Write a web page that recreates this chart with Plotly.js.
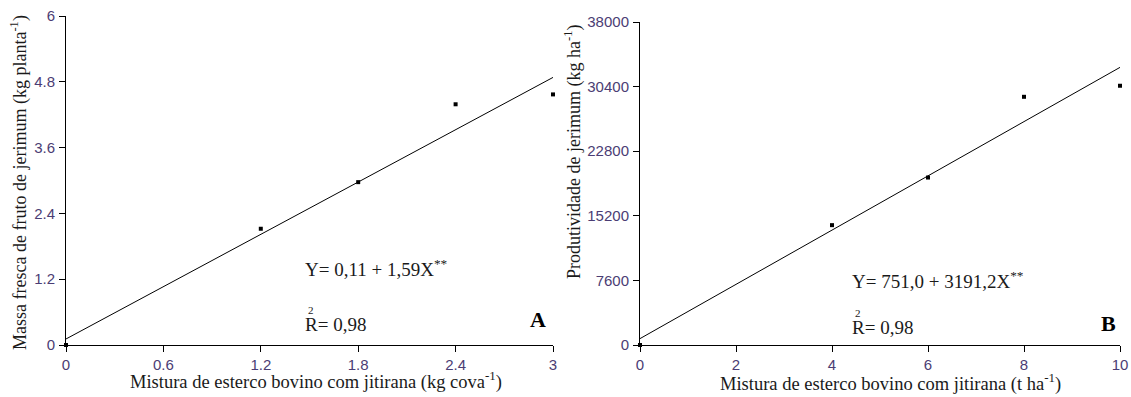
<!DOCTYPE html>
<html>
<head>
<meta charset="utf-8">
<script src="https://cdn.plot.ly/plotly-3.0.1.min.js"></script>
<style>
  html, body { margin: 0; padding: 0; background: #fff; }
  #chart { width: 1131px; height: 397px; }
</style>
</head>
<body>
<div id="chart"></div>
<script>
// Panel A: fresh fruit mass per plant vs. manure + jitirana dose per pit
const doseA = [0, 1.2, 1.8, 2.4, 3.0];
const massA = [0, 2.12, 2.97, 4.39, 4.57];
const fitA = { a: 0.11, b: 1.59 };
const ticksA_x = [0, 0.6, 1.2, 1.8, 2.4, 3];
const ticksA_y = [0, 1.2, 2.4, 3.6, 4.8, 6];

// Panel B: pumpkin yield per hectare vs. manure + jitirana dose per hectare
const doseB = [0, 4, 6, 8, 10];
const yieldB = [0, 14100, 19700, 29200, 30500];
const fitB = { a: 751.0, b: 3191.2 };
const ticksB_x = [0, 2, 4, 6, 8, 10];
const ticksB_y = [0, 7600, 15200, 22800, 30400, 38000];

const W = 1131, H = 397;
const px = v => v / W;
const py = v => (H - v) / H;

const tickColor = '#4b3d74';
const textColor = '#1a1a1a';
const serif = 'Liberation Serif, Times New Roman, serif';
const sans = 'Liberation Sans, Arial, sans-serif';

function fitLine(dose, fit) {
  const x0 = dose[0], x1 = dose[dose.length - 1];
  return { x: [x0, x1], y: [fit.a + fit.b * x0, fit.a + fit.b * x1] };
}
const lineA = fitLine(doseA, fitA);
const lineB = fitLine(doseB, fitB);

const markerStyle = { color: '#000', size: 4, symbol: 'square' };
const lineStyle = { color: '#000', width: 1 };

const traces = [
  { x: doseA, y: massA, xaxis: 'x', yaxis: 'y', mode: 'markers', marker: markerStyle, cliponaxis: false, showlegend: false },
  { x: lineA.x, y: lineA.y, xaxis: 'x', yaxis: 'y', mode: 'lines', line: lineStyle, cliponaxis: false, showlegend: false },
  { x: doseB, y: yieldB, xaxis: 'x2', yaxis: 'y2', mode: 'markers', marker: markerStyle, cliponaxis: false, showlegend: false },
  { x: lineB.x, y: lineB.y, xaxis: 'x2', yaxis: 'y2', mode: 'lines', line: lineStyle, cliponaxis: false, showlegend: false }
];

function axisBase(extra) {
  return Object.assign({
    showgrid: false, zeroline: false, showline: true,
    linecolor: '#000', linewidth: 1,
    ticks: 'outside', ticklen: 6, tickwidth: 1, tickcolor: '#000',
    tickmode: 'array',
    tickfont: { family: sans, size: 15, color: tickColor },
    fixedrange: true
  }, extra);
}

const layout = {
  width: W, height: H,
  margin: { l: 0, r: 0, t: 0, b: 0 },
  paper_bgcolor: '#fff', plot_bgcolor: '#fff',
  showlegend: false,
  xaxis: axisBase({ domain: [px(66), px(553)], range: [0, 3], tickvals: ticksA_x, ticktext: ticksA_x.map(String), anchor: 'y' }),
  yaxis: axisBase({ domain: [py(345), py(16)], range: [0, 6], tickvals: ticksA_y, ticktext: ticksA_y.map(String), anchor: 'x', ticklabelstandoff: 1 }),
  xaxis2: axisBase({ domain: [px(640), px(1120)], range: [0, 10], tickvals: ticksB_x, ticktext: ticksB_x.map(String), anchor: 'y2' }),
  yaxis2: axisBase({ domain: [py(345), py(22)], range: [0, 38000], tickvals: ticksB_y, ticktext: ticksB_y.map(String), anchor: 'x2', ticklabelstandoff: 1 }),
  annotations: []
};

function note(text, x, y, opts) {
  layout.annotations.push(Object.assign({
    text: text, xref: 'paper', yref: 'paper', x: px(x), y: py(y),
    showarrow: false, xanchor: 'center', yanchor: 'middle',
    font: { family: serif, size: 18.5, color: textColor }
  }, opts || {}));
}

// axis titles
note('Mistura de esterco bovino com jitirana (kg cova<sup>-1</sup>)', 316, 380);
note('Massa fresca de fruto de jerimum (kg planta<sup>-1</sup>)', 19, 183, { textangle: -90, font: { family: serif, size: 18, color: textColor } });
note('Mistura de esterco bovino com jitirana (t ha<sup>-1</sup>)', 890, 382);
note('Produtividade de jerimum (kg ha<sup>-1</sup>)', 573, 152, { textangle: -90, font: { family: serif, size: 18, color: textColor } });

// regression equations and R²
const eqFont = { family: serif, size: 19, color: textColor };
const supFont = { family: serif, size: 11, color: textColor };
note('Y= 0,11 + 1,59X<sup>**</sup>', 303, 268, { xanchor: 'left', font: eqFont });
note('R= 0,98', 303, 324, { xanchor: 'left', font: eqFont });
note('2', 306, 310, { xanchor: 'left', font: supFont });
note('Y= 751,0 + 3191,2X<sup>**</sup>', 850, 280, { xanchor: 'left', font: eqFont });
note('R= 0,98', 850, 327, { xanchor: 'left', font: eqFont });
note('2', 853, 313, { xanchor: 'left', font: supFont });

// panel letters
note('<b>A</b>', 538, 319, { font: { family: serif, size: 22, color: '#000' } });
note('<b>B</b>', 1108, 323, { font: { family: serif, size: 22, color: '#000' } });

Plotly.newPlot('chart', traces, layout, { staticPlot: true, displayModeBar: false });
</script>
</body>
</html>
